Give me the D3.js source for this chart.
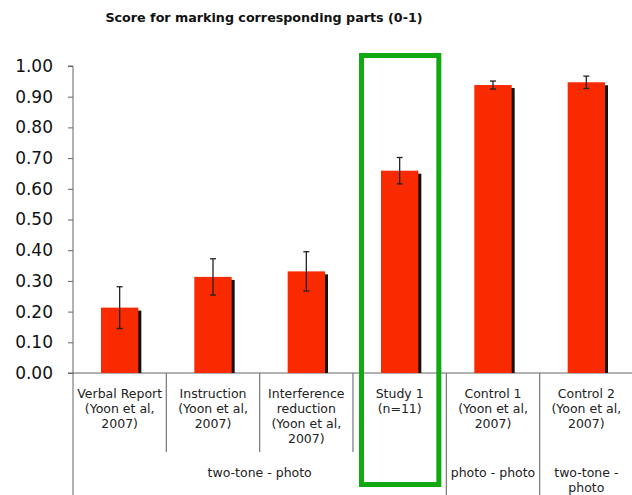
<!DOCTYPE html>
<html>
<head>
<meta charset="utf-8">
<script src="https://cdn.jsdelivr.net/npm/d3@7"></script>
<style>
  body { margin: 0; background: #fff; }
  text { font-family: "DejaVu Sans", Verdana, sans-serif; }
</style>
</head>
<body>
<script>
// chart data
var categories = ['Verbal Report\n(Yoon et al,\n2007)', 'Instruction\n(Yoon et al,\n2007)',
                  'Interference\nreduction\n(Yoon et al,\n2007)', 'Study 1\n(n=11)',
                  'Control 1\n(Yoon et al,\n2007)', 'Control 2\n(Yoon et al,\n2007)'];
var scores = [0.213, 0.313, 0.331, 0.659, 0.938, 0.947];
var errors = [0.068, 0.059, 0.064, 0.043, 0.013, 0.020];
var groups = ['two-tone - photo', 'photo - photo', 'two-tone -\nphoto'];
var groupSpans = [4, 1, 1];   // how many categories each group covers
var yTicks = [0, 0.1, 0.2, 0.3, 0.4, 0.5, 0.6, 0.7, 0.8, 0.9, 1.0];
var highlighted = 3;

var width = 632, height = 495;
var plotLeft = 73, plotRight = 633, plotTop = 66, plotBottom = 373;

let svg = d3.select('body')
           .append('svg')
           .attr('width', width)
           .attr('height', height);

// title
svg.append('text')
   .attr('x', 264).attr('y', 22)
   .attr('text-anchor', 'middle')
   .attr('font-size', 12.7)
   .attr('font-weight', 'bold')
   .attr('fill', '#111')
   .text('Score for marking corresponding parts (0-1)');

let x = d3.scaleBand()
          .domain(d3.range(categories.length))
          .range([plotLeft, plotRight])
          .paddingInner(0.6)
          .paddingOuter(0.3);

let y = d3.scaleLinear().domain([0, 1]).range([plotBottom, plotTop]);

let step = x.step();
let boundary = (i) => plotLeft + i * step;

// y axis
let yAxis = svg.append('g')
   .attr('transform', `translate(${plotLeft},0)`)
   .call(d3.axisLeft(y).tickValues(yTicks).tickSize(5).tickPadding(15).tickFormat(d3.format('.2f')));
yAxis.select('.domain').attr('stroke', '#666').attr('d', `M-5,${plotTop}H0V${height}`);
yAxis.selectAll('.tick line').attr('stroke', '#666');
yAxis.selectAll('.tick text').attr('font-size', 17).attr('fill', '#111')
     .attr('font-family', '"DejaVu Sans", Verdana, sans-serif');

// baseline
svg.append('line')
   .attr('x1', plotLeft - 5).attr('x2', width)
   .attr('y1', plotBottom).attr('y2', plotBottom)
   .attr('stroke', '#666');

// category separators: group edges run to the bottom
let groupEdges = [0];
groupSpans.forEach((s) => { groupEdges.push(groupEdges[groupEdges.length - 1] + s); });
d3.range(1, categories.length + 1).forEach((i) => {
    let full = groupEdges.indexOf(i) >= 0;
    svg.append('line')
       .attr('x1', boundary(i)).attr('x2', boundary(i))
       .attr('y1', plotBottom).attr('y2', full ? height : 452)
       .attr('stroke', '#777').attr('stroke-width', 1.2);
});

// bar shadows then bars
svg.selectAll('rect.shadow')
   .data(scores).enter()
   .append('rect')
   .attr('class', 'shadow')
   .attr('x', (d, i) => x(i) + 3)
   .attr('y', (d) => y(d) + 3)
   .attr('width', x.bandwidth())
   .attr('height', (d) => plotBottom - y(d) - 3)
   .attr('fill', '#111');

svg.selectAll('rect.bar')
   .data(scores).enter()
   .append('rect')
   .attr('class', 'bar')
   .attr('x', (d, i) => x(i))
   .attr('y', (d) => y(d))
   .attr('width', x.bandwidth())
   .attr('height', (d) => plotBottom - y(d))
   .attr('fill', '#f92a00');

// error bars
let err = svg.selectAll('g.err')
   .data(scores).enter()
   .append('g')
   .attr('class', 'err')
   .attr('stroke', '#222')
   .attr('stroke-width', 1.3);
let cx = (i) => x(i) + x.bandwidth() / 2;
err.append('line')
   .attr('x1', (d, i) => cx(i)).attr('x2', (d, i) => cx(i))
   .attr('y1', (d, i) => y(d + errors[i])).attr('y2', (d, i) => y(d - errors[i]));
err.append('line')
   .attr('x1', (d, i) => cx(i) - 3).attr('x2', (d, i) => cx(i) + 3)
   .attr('y1', (d, i) => y(d + errors[i])).attr('y2', (d, i) => y(d + errors[i]));
err.append('line')
   .attr('x1', (d, i) => cx(i) - 3).attr('x2', (d, i) => cx(i) + 3)
   .attr('y1', (d, i) => y(d - errors[i])).attr('y2', (d, i) => y(d - errors[i]));

// category labels
categories.forEach((c, i) => {
    let t = svg.append('text')
       .attr('text-anchor', 'middle')
       .attr('font-size', 12.5)
       .attr('fill', '#222');
    c.split('\n').forEach((line, k) => {
        t.append('tspan').attr('x', cx(i)).attr('y', 398 + k * 15).text(line);
    });
});

// group labels
groups.forEach((g, j) => {
    let mid = (boundary(groupEdges[j]) + boundary(groupEdges[j + 1])) / 2;
    let t = svg.append('text')
       .attr('text-anchor', 'middle')
       .attr('font-size', 12.5)
       .attr('fill', '#222');
    g.split('\n').forEach((line, k) => {
        t.append('tspan').attr('x', mid).attr('y', 477 + k * 15).text(line);
    });
});

// green highlight box around Study 1
svg.append('rect')
   .attr('x', boundary(highlighted) + 8.5)
   .attr('y', 55.5)
   .attr('width', step - 16)
   .attr('height', 429)
   .attr('fill', 'none')
   .attr('stroke', '#12a812')
   .attr('stroke-width', 5);
</script>
</body>
</html>
